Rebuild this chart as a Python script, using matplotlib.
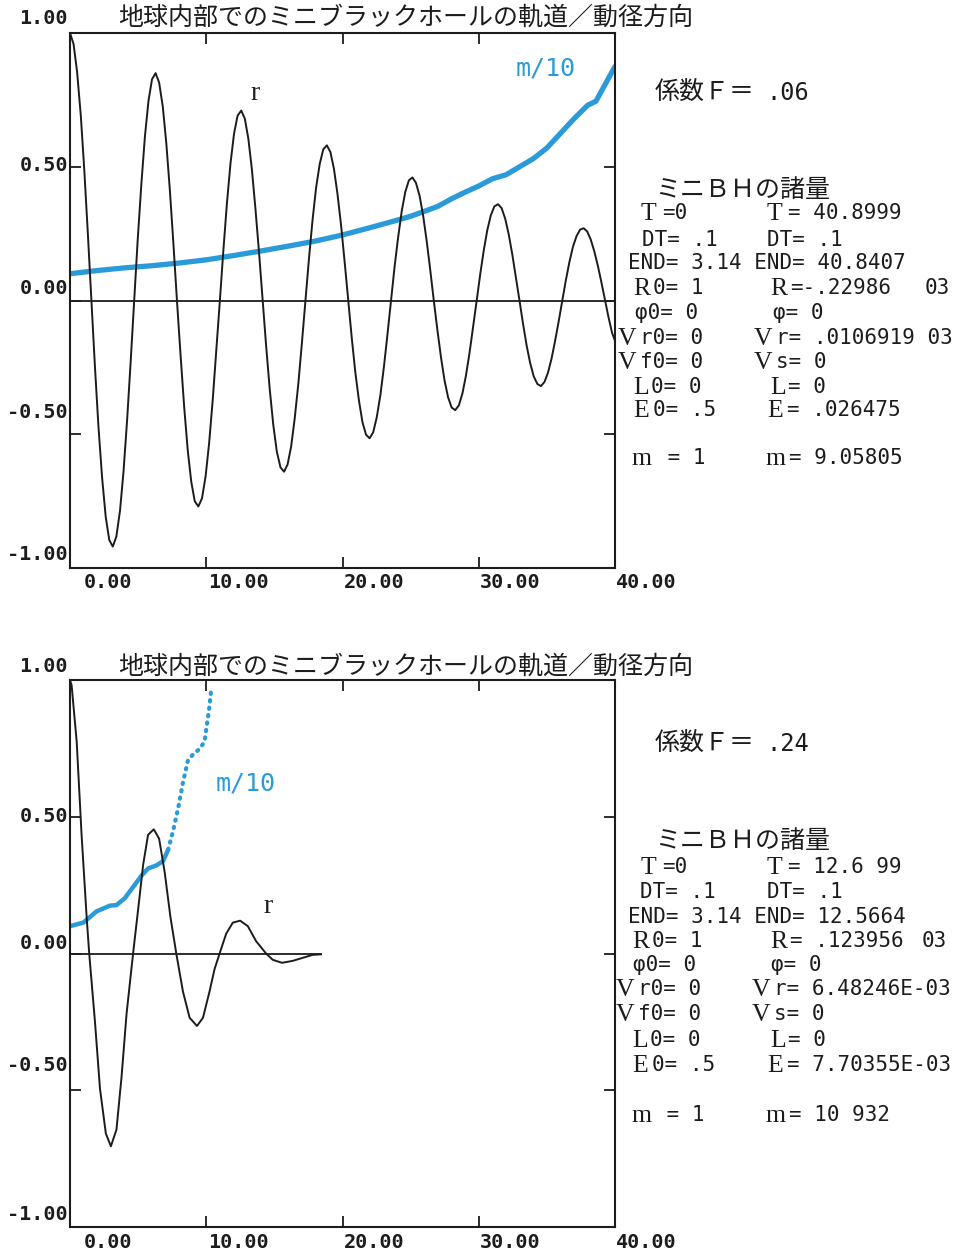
import matplotlib
matplotlib.use("Agg")
import matplotlib.pyplot as plt
from matplotlib.transforms import offset_copy

W, H = 961, 1254
TITLE = "地球内部でのミニブラックホールの軌道／動径方向"
BLUE = "#2a9ad8"
INK = "#1c1c1c"
MONO = ["DejaVu Sans Mono", "Noto Sans CJK JP"]
JP = ["Noto Sans CJK JP", "DejaVu Sans"]
SERIF = ["Liberation Serif", "DejaVu Serif"]

# --- top panel (F = .06) ---
t_top = [0.00, 0.26, 0.52, 0.79, 1.05, 1.31, 1.57, 1.83, 2.09, 2.36, 2.62, 2.88,
         3.14, 3.40, 3.67, 3.93, 4.19, 4.45, 4.71, 4.97, 5.24, 5.50, 5.76, 6.02,
         6.28, 6.54, 6.81, 7.07, 7.33, 7.59, 7.85, 8.12, 8.38, 8.64, 8.90, 9.16,
         9.42, 9.69, 9.95, 10.21, 10.47, 10.73, 11.00, 11.26, 11.52, 11.78, 12.04,
         12.30, 12.57, 12.83, 13.09, 13.35, 13.61, 13.88, 14.14, 14.40, 14.66,
         14.92, 15.18, 15.45, 15.71, 15.97, 16.23, 16.49, 16.76, 17.02, 17.28,
         17.54, 17.80, 18.06, 18.33, 18.59, 18.85, 19.11, 19.37, 19.63, 19.90,
         20.16, 20.42, 20.68, 20.94, 21.21, 21.47, 21.73, 21.99, 22.25, 22.51,
         22.78, 23.04, 23.30, 23.56, 23.82, 24.09, 24.35, 24.61, 24.87, 25.13,
         25.39, 25.66, 25.92, 26.18, 26.44, 26.70, 26.97, 27.23, 27.49, 27.75,
         28.01, 28.27, 28.54, 28.80, 29.06, 29.32, 29.58, 29.85, 30.11, 30.37,
         30.63, 30.89, 31.15, 31.42, 31.68, 31.94, 32.20, 32.46, 32.72, 32.99,
         33.25, 33.51, 33.77, 34.03, 34.30, 34.56, 34.82, 35.08, 35.34, 35.60,
         35.87, 36.13, 36.39, 36.65, 36.91, 37.18, 37.44, 37.70, 37.96, 38.22,
         38.48, 38.75, 39.01, 39.27, 39.53, 39.79, 40.00]
r_top = [1.00, 0.959, 0.855, 0.693, 0.487, 0.250, 0.00, -0.247, -0.473, -0.665, -0.808, -0.895, -0.92,
         -0.883, -0.786, -0.638, -0.448, -0.231, 0.00, 0.228, 0.437, 0.614, 0.746, 0.827, 0.85,
         0.815, 0.725, 0.587, 0.412, 0.212, 0.00, -0.208, -0.398, -0.559, -0.678, -0.751, -0.77,
         -0.739, -0.658, -0.534, -0.375, -0.193, 0.00, 0.190, 0.365, 0.513, 0.624, 0.691, 0.71,
         0.680, 0.605, 0.490, 0.343, 0.176, 0.00, -0.173, -0.332, -0.465, -0.565, -0.624, -0.64,
         -0.613, -0.546, -0.442, -0.310, -0.159, 0.00, 0.157, 0.300, 0.421, 0.511, 0.565, 0.58,
         0.555, 0.493, 0.399, 0.279, 0.143, 0.00, -0.140, -0.268, -0.375, -0.456, -0.502, -0.515,
         -0.493, -0.438, -0.354, -0.248, -0.127, 0.00, 0.125, 0.239, 0.335, 0.406, 0.449, 0.46,
         0.440, 0.391, 0.317, 0.222, 0.114, 0.00, -0.112, -0.213, -0.299, -0.362, -0.400, -0.41,
         -0.392, -0.348, -0.281, -0.197, -0.101, 0.00, 0.099, 0.188, 0.264, 0.319, 0.352, 0.36,
         0.345, 0.306, 0.247, 0.173, 0.089, 0.00, -0.087, -0.167, -0.233, -0.283, -0.312, -0.32,
         -0.305, -0.270, -0.218, -0.152, -0.077, 0.00, 0.075, 0.143, 0.200, 0.241, 0.265, 0.27,
         0.258, 0.228, 0.184, 0.128, 0.066, 0.00, -0.064, -0.122, -0.15]
tm_top = [0, 2, 4, 6, 8, 10, 12, 14, 16, 18, 20, 22, 24, 25, 26, 27, 28, 29, 30,
          31, 32, 33, 34, 35, 36, 37, 38, 38.6, 39.3, 40]
m_top = [0.10, 0.112, 0.122, 0.13, 0.14, 0.152, 0.168, 0.185, 0.203, 0.222, 0.245,
         0.272, 0.30, 0.315, 0.333, 0.352, 0.38, 0.405, 0.428, 0.455, 0.47, 0.50,
         0.53, 0.57, 0.625, 0.68, 0.73, 0.745, 0.81, 0.875]

# --- bottom panel (F = .24) ---
t_bot = [0.00, 0.12, 0.49, 0.85, 1.22, 1.41, 1.83, 2.20, 2.63, 3.00, 3.41, 3.78,
         4.15, 4.63, 5.00, 5.37, 5.73, 6.15, 6.54, 6.95, 7.37, 7.80, 8.29, 8.78,
         9.32, 9.76, 10.24, 10.61, 10.98, 11.46, 11.95, 12.49, 13.05, 13.66, 14.39,
         14.88, 15.56, 16.34, 17.07, 17.80, 18.41]
r_bot = [1.00, 0.98, 0.775, 0.434, 0.134, 0.00, -0.248, -0.494, -0.658, -0.705,
         -0.644, -0.453, -0.221, 0.00, 0.161, 0.325, 0.434, 0.454, 0.42, 0.297,
         0.134, 0.00, -0.139, -0.235, -0.265, -0.235, -0.139, -0.057, 0.00, 0.072,
         0.113, 0.12, 0.10, 0.045, 0.00, -0.023, -0.034, -0.027, -0.016, -0.005,
         -0.003]
tm_bot = [0.00, 0.98, 1.95, 2.93, 3.41, 4.02, 4.63, 5.24, 5.73, 6.34, 6.83, 7.20,
          7.56, 7.93, 8.29, 8.66, 9.02, 9.51, 9.88, 10.00, 10.20, 10.37]
m_bot = [0.10, 0.113, 0.154, 0.175, 0.177, 0.202, 0.243, 0.284, 0.311, 0.322,
         0.338, 0.379, 0.447, 0.529, 0.625, 0.707, 0.727, 0.748, 0.775, 0.82,
         0.89, 0.966]

x_ticks = [0, 10, 20, 30, 40]
x_ticklabels = ["0.00", "10.00", "20.00", "30.00", "40.00"]
y_ticks = [1.0, 0.5, 0.0, -0.5, -1.0]
y_ticklabels = ["1.00", "0.50", "0.00", "-0.50", "-1.00"]

fig = plt.figure(figsize=(W / 100, H / 100), dpi=100)
fig.patch.set_facecolor("white")


def put(x, y, s, size=15, family=MONO, color=INK, ha="left"):
    fig.text(x / W, 1 - y / H, s, fontsize=size, family=family, color=color,
             ha=ha, va="center")


def row(xl, xr, y, letter, rest):
    # big serif letter followed by the mono remainder, as on the printout
    put(xl, y + 1, letter, size=18.5, family=SERIF)
    put(xr, y, rest)


def make_axes(top, bottom, ylab_shift):
    ax = fig.add_axes([70 / W, 1 - bottom / H, 545 / W, (bottom - top) / H])
    ax.set_xlim(0, 40)
    ax.set_ylim(-1, 1)
    for sp in ax.spines.values():
        sp.set_linewidth(1.5)
        sp.set_color(INK)
    ax.set_xticks([10, 20, 30])
    ax.set_yticks([-0.5, 0, 0.5])
    ax.tick_params(direction="in", length=8, width=1.3, color=INK, top=True,
                   right=True, labelleft=False, labelbottom=False)
    for t, lab in zip(x_ticks, x_ticklabels):
        tr = offset_copy(ax.transData, fig=fig, x=62, y=-15, units="dots")
        ax.text(t, -1, lab, transform=tr, ha="right", va="center",
                fontsize=14.5, family=MONO, color=INK, weight="bold")
    for v, lab, dy in zip(y_ticks, y_ticklabels, ylab_shift):
        tr = offset_copy(ax.transData, fig=fig, x=-2, y=dy, units="dots")
        ax.text(0, v, lab, transform=tr, ha="right", va="center",
                fontsize=14.5, family=MONO, color=INK, weight="bold")
    return ax


# ---------------- top panel ----------------
ax1 = make_axes(33, 568, [15, 1, 12, 22, 13])
ax1.axhline(0, color=INK, lw=1.3)
ax1.plot(tm_top, m_top, color=BLUE, lw=3.8, solid_capstyle="round")
ax1.plot(t_top, r_top, color=INK, lw=1.4)
ax1.text(32.7, 0.867, "m/10", color=BLUE, fontsize=18, family="DejaVu Sans Mono",
         va="center")
ax1.text(13.6, 0.774, "r", color=INK, fontsize=20, family=SERIF,
         ha="center", va="center")
put(118, 18, TITLE, size=18, family=JP)

# ---------------- bottom panel ----------------
ax2 = make_axes(680, 1227, [13, 0, 10, 25, 12])
ax2.plot([t_bot[0], t_bot[-1]], [0, 0], color=INK, lw=1.3)
ax2.plot(tm_bot[:12], m_bot[:12], color=BLUE, lw=3.2, solid_capstyle="round")
ax2.plot(tm_bot[11:], m_bot[11:], color=BLUE, lw=3.0,
         linestyle=(0, (0.3, 1.5)), dash_capstyle="round")
ax2.plot(t_bot, r_bot, color=INK, lw=1.4)
ax2.text(10.66, 0.62, "m/10", color=BLUE, fontsize=18, family="DejaVu Sans Mono",
         va="center")
ax2.text(14.56, 0.173, "r", color=INK, fontsize=20, family=SERIF,
         ha="center", va="center")
put(118, 667, TITLE, size=18, family=JP)

# ---------------- parameter blocks ----------------
put(655, 92, "係数Ｆ＝", size=18, family=JP)
put(766, 93, ".06", size=17)
put(655, 190, "ミニＢＨの諸量", size=18, family=JP)
row(641, 662, 213, "T", "=0")
row(767, 788, 213, "T", "= 40.8999")
put(642, 240, "DT= .1")
put(767, 240, "DT= .1")
put(628, 263, "END= 3.14 END= 40.8407")
row(633, 653, 288, "R", "0= 1")
row(770, 790, 288, "R", "=-.22986")
put(925, 288, "03")
put(635, 313, "φ0= 0")
put(773, 313, "φ= 0")
row(618, 640, 338, "V", "r0= 0")
row(754, 776, 338, "V", "r= .0106919 03")
row(618, 640, 362, "V", "f0= 0")
row(754, 776, 362, "V", "s= 0")
row(633, 651, 387, "L", "0= 0")
row(770, 788, 387, "L", "= 0")
row(633, 653, 410, "E", "0= .5")
row(767, 787, 410, "E", "= .026475")
row(632, 655, 458, "m", " = 1")
row(766, 789, 458, "m", "= 9.05805")

put(655, 743, "係数Ｆ＝", size=18, family=JP)
put(766, 744, ".24", size=17)
put(655, 841, "ミニＢＨの諸量", size=18, family=JP)
row(641, 662, 867, "T", "=0")
row(767, 788, 867, "T", "= 12.6 99")
put(640, 892, "DT= .1")
put(767, 892, "DT= .1")
put(628, 917, "END= 3.14 END= 12.5664")
row(632, 652, 941, "R", "0= 1")
row(770, 790, 941, "R", "= .123956")
put(922, 941, "03")
put(633, 965, "φ0= 0")
put(771, 965, "φ= 0")
row(616, 638, 989, "V", "r0= 0")
row(752, 774, 989, "V", "r= 6.48246E-03")
row(616, 638, 1014, "V", "f0= 0")
row(752, 774, 1014, "V", "s= 0")
row(632, 650, 1040, "L", "0= 0")
row(770, 788, 1040, "L", "= 0")
row(632, 652, 1065, "E", "0= .5")
row(767, 787, 1065, "E", "= 7.70355E-03")
row(631, 654, 1115, "m", " = 1")
row(766, 789, 1115, "m", "= 10 932")

fig.savefig("out.png", dpi=100, facecolor="white")
